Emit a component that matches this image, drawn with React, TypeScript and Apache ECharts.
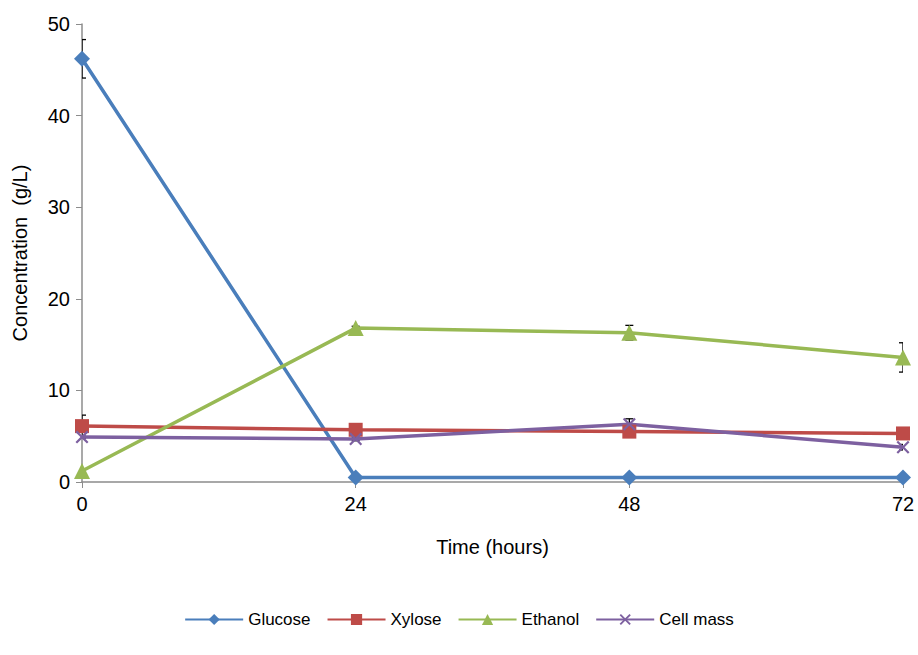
import React, { useEffect, useRef } from "react";
import * as echarts from "echarts";

const times = [0, 24, 48, 72];
const glucose = [46.2, 0.5, 0.5, 0.5];
const xylose = [6.1, 5.7, 5.5, 5.3];
const ethanol = [1.2, 16.8, 16.3, 13.6];
const cellMass = [4.9, 4.7, 6.3, 3.8];

const glucoseErr = [2.1, 0.1, 0.1, 0.1];
const xyloseErr = [1.2, 0.1, 0.2, 0.1];
const ethanolErr = [0.2, 0.2, 0.8, 1.6];
const cellMassErr = [0.1, 0.2, 0.6, 0.3];

const seriesNames = ["Glucose", "Xylose", "Ethanol", "Cell mass"];
const colors = ["#4A7EBB", "#BE4B48", "#98B954", "#7D60A0"];

const FONT = "'Liberation Sans', Arial, sans-serif";
const X_SYMBOL = "path://M0,1.2L1.2,0L5,3.8L8.8,0L10,1.2L6.2,5L10,8.8L8.8,10L5,6.2L1.2,10L0,8.8L3.8,5Z";

export default function App() {
  const ref = useRef<HTMLDivElement>(null);
  useEffect(() => {
    if (!ref.current) return;
    const chart = echarts.init(ref.current, null, { renderer: "svg" });
    const values = [glucose, xylose, ethanol, cellMass];
    const errs = [glucoseErr, xyloseErr, ethanolErr, cellMassErr];
    const symbols = ["diamond", "rect", "triangle", X_SYMBOL];
    const sizes = [16, 14, 16, 13];

    const errData: number[][] = [];
    values.forEach((v, i) => {
      v.forEach((val, j) => {
        errData.push([times[j], val - errs[i][j], val + errs[i][j]]);
      });
    });

    const lineSeries = values.map((v, i) => ({
      name: seriesNames[i],
      type: "line",
      data: v.map((val, j) => [times[j], val]),
      symbol: symbols[i],
      symbolSize: sizes[i],
      lineStyle: { color: colors[i], width: 3.5 },
      itemStyle: { color: colors[i] },
      z: 3,
    }));

    chart.setOption({
      animation: false,
      backgroundColor: "#ffffff",
      grid: {
        left: 82,
        right: 15,
        top: 24,
        bottom: 173,
        containLabel: false,
        outerBoundsMode: "none",
      },
      legend: {
        data: seriesNames,
        bottom: 22,
        left: "center",
        itemWidth: 58,
        itemHeight: 14,
        itemGap: 16,
        textStyle: { fontFamily: FONT, fontSize: 17, color: "#000" },
      },
      xAxis: {
        type: "value",
        min: 0,
        max: 72,
        interval: 24,
        name: "Time (hours)",
        nameLocation: "middle",
        nameGap: 55,
        nameTextStyle: { fontFamily: FONT, fontSize: 20, color: "#000" },
        axisLine: { lineStyle: { color: "#8C8C8C", width: 1.5 } },
        axisTick: { show: true, length: 6, lineStyle: { color: "#8C8C8C" } },
        axisLabel: { fontFamily: FONT, fontSize: 20, color: "#000", margin: 12 },
        splitLine: { show: false },
      },
      yAxis: {
        type: "value",
        min: 0,
        max: 50,
        interval: 10,
        name: "Concentration  (g/L)",
        nameLocation: "middle",
        nameGap: 52,
        nameTextStyle: { fontFamily: FONT, fontSize: 20, color: "#000" },
        axisLine: { show: true, lineStyle: { color: "#8C8C8C", width: 1.5 } },
        axisTick: { show: true, length: 6, lineStyle: { color: "#8C8C8C" } },
        axisLabel: { fontFamily: FONT, fontSize: 20, color: "#000", margin: 12 },
        splitLine: { show: false },
      },
      series: [
        {
          type: "custom",
          name: "err",
          data: errData,
          clip: true,
          z: 2,
          renderItem: (params: any, api: any) => {
            const x = api.value(0);
            const lo = api.coord([x, api.value(1)]);
            const hi = api.coord([x, api.value(2)]);
            const cap = 4;
            const style = { stroke: "#000", lineWidth: 1.3 };
            return {
              type: "group",
              children: [
                { type: "line", shape: { x1: lo[0], y1: lo[1], x2: hi[0], y2: hi[1] }, style },
                { type: "line", shape: { x1: hi[0] - cap, y1: hi[1], x2: hi[0] + cap, y2: hi[1] }, style },
                { type: "line", shape: { x1: lo[0] - cap, y1: lo[1], x2: lo[0] + cap, y2: lo[1] }, style },
              ],
            };
          },
        },
        ...lineSeries,
      ],
    });
    return () => chart.dispose();
  }, []);
  return (
    <div
      ref={ref}
      style={{ position: "absolute", left: 0, top: 0, width: 918, height: 655 }}
    />
  );
}
